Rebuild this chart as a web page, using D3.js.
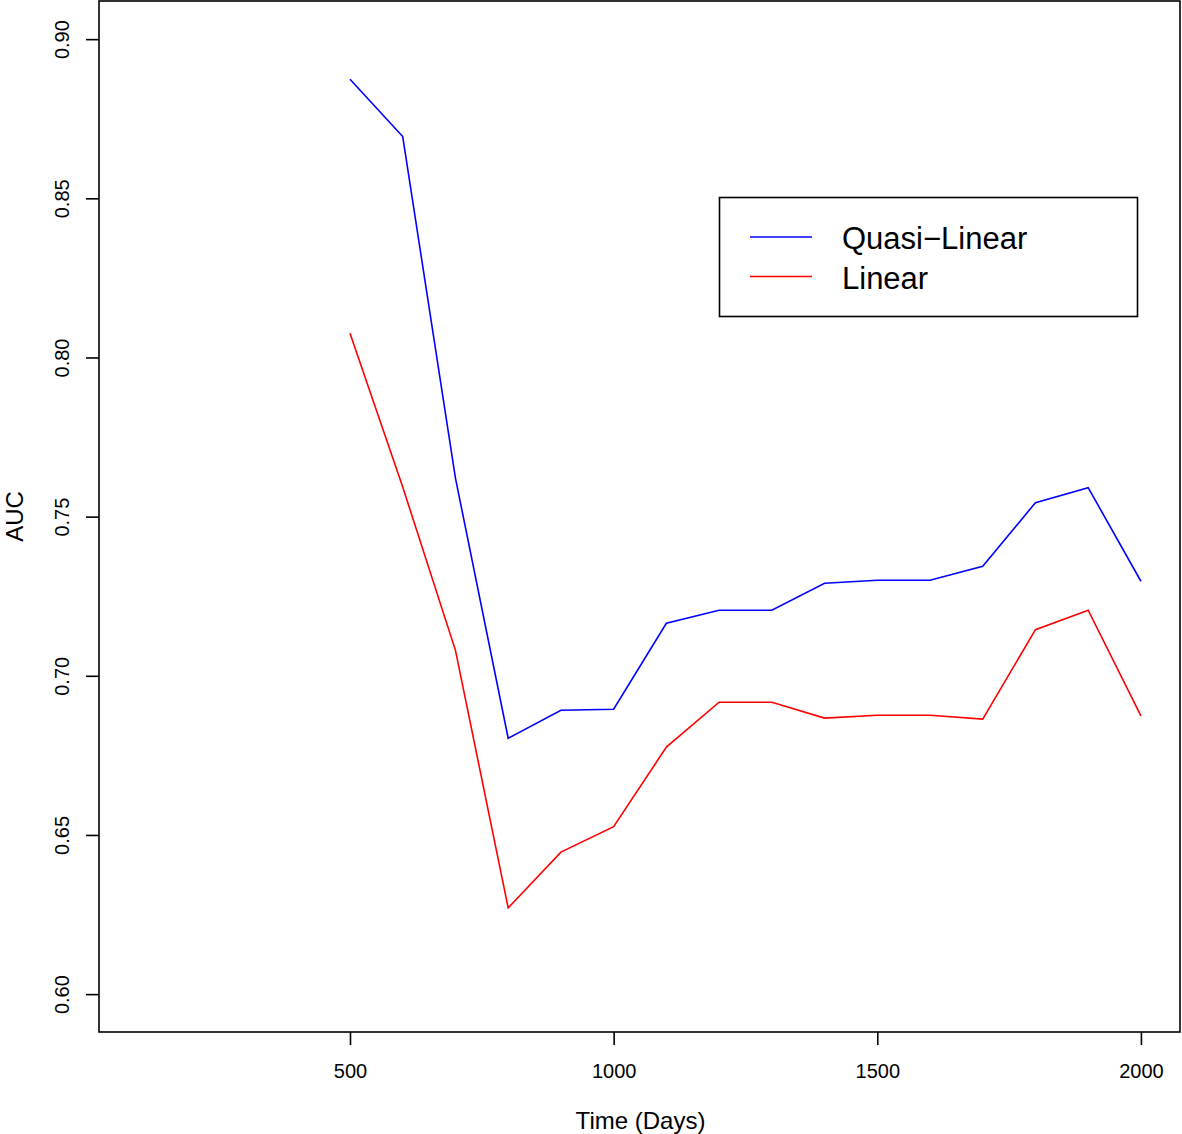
<!DOCTYPE html>
<html lang="en">
<head>
<meta charset="utf-8">
<title>AUC over time</title>
<script src="https://cdn.jsdelivr.net/npm/d3@7/dist/d3.min.js"></script>
<style>
body { margin: 0; background: #fff; }
text { font-family: "Liberation Sans", Arial, sans-serif; }
</style>
</head>
<body>
<script>
// data
var days = [500, 600, 700, 800, 900, 1000, 1100, 1200, 1300, 1400, 1500, 1600, 1700, 1800, 1900, 2000];
var quasiLinear = [0.8874, 0.8694, 0.7621, 0.6804, 0.6892, 0.6895, 0.7165, 0.7206, 0.7206, 0.7291, 0.7300, 0.7300, 0.7344, 0.7544, 0.7591, 0.7297];
var linear = [0.8076, 0.7593, 0.7080, 0.6271, 0.6446, 0.6526, 0.6776, 0.6917, 0.6917, 0.6867, 0.6876, 0.6876, 0.6864, 0.7145, 0.7206, 0.6874];
var xTicks = [500, 1000, 1500, 2000];
var yTicks = [0.60, 0.65, 0.70, 0.75, 0.80, 0.85, 0.90];
var seriesNames = ["Quasi\u2212Linear", "Linear"];
var seriesColors = ["#0000ff", "#ff0000"];

var w = 1182, h = 1134;
var plotLeft = 99, plotRight = 1180, plotTop = 1, plotBottom = 1032;

var svg = d3.select("body").append("svg")
    .attr("width", w)
    .attr("height", h);

// R style: xlim 100..2000 padded by 4%
var x = d3.scaleLinear().domain([24, 2076]).range([plotLeft, plotRight + 1]);
var y = d3.scaleLinear().domain([0.5881, 0.9123]).range([plotBottom, 0]);

var line = d3.line()
    .x(function(d) { return x(d[0]); })
    .y(function(d) { return y(d[1]); });

[quasiLinear, linear].forEach(function(vals, i) {
    svg.append("path")
       .datum(days.map(function(d, j) { return [d, vals[j]]; }))
       .attr("d", line)
       .attr("fill", "none")
       .attr("stroke", seriesColors[i])
       .attr("stroke-width", 1.6);
});

// frame
svg.append("rect")
   .attr("x", plotLeft)
   .attr("y", plotTop)
   .attr("width", plotRight - plotLeft)
   .attr("height", plotBottom - plotTop)
   .attr("fill", "none")
   .attr("stroke", "#000")
   .attr("stroke-width", 1.6);

// x axis
var xAxis = d3.axisBottom(x)
    .tickValues(xTicks)
    .tickSize(13)
    .tickSizeOuter(0)
    .tickPadding(19)
    .tickFormat(d3.format("d"));

var gx = svg.append("g")
   .attr("transform", "translate(0," + plotBottom + ")")
   .call(xAxis);
gx.select(".domain").remove();
gx.selectAll("line").attr("stroke-width", 1.6);
gx.selectAll("text").attr("font-size", "20px").attr("fill", "#000")
  .attr("font-family", "'Liberation Sans', Arial, sans-serif");

// y axis
var yAxis = d3.axisLeft(y)
    .tickValues(yTicks)
    .tickSize(13)
    .tickSizeOuter(0)
    .tickFormat(d3.format(".2f"));

var gy = svg.append("g")
   .attr("transform", "translate(" + plotLeft + ",0)")
   .call(yAxis);
gy.select(".domain").remove();
gy.selectAll("line").attr("stroke-width", 1.6);
gy.selectAll("text")
  .attr("font-size", "20px")
  .attr("fill", "#000")
  .attr("font-family", "'Liberation Sans', Arial, sans-serif")
  .attr("x", null).attr("dy", null)
  .attr("text-anchor", "middle")
  .attr("transform", "translate(-30,0) rotate(-90)");

// axis titles
svg.append("text")
   .attr("x", (plotLeft + plotRight) / 2 + 1)
   .attr("y", 1129)
   .attr("text-anchor", "middle")
   .attr("font-size", "24px")
   .text("Time (Days)");

svg.append("text")
   .attr("transform", "translate(23," + ((plotTop + plotBottom) / 2) + ") rotate(-90)")
   .attr("text-anchor", "middle")
   .attr("font-size", "24px")
   .text("AUC");

// legend
var lg = svg.append("g");
lg.append("rect")
  .attr("x", 719.5).attr("y", 197.5)
  .attr("width", 418).attr("height", 119)
  .attr("fill", "#fff")
  .attr("stroke", "#000")
  .attr("stroke-width", 1.6);

seriesNames.forEach(function(name, i) {
    var ly = 237 + i * 39.5;
    lg.append("line")
      .attr("x1", 750).attr("x2", 812)
      .attr("y1", ly).attr("y2", ly)
      .attr("stroke", seriesColors[i])
      .attr("stroke-width", 1.6);
    lg.append("text")
      .attr("x", 842)
      .attr("y", ly + 12)
      .attr("font-size", "31px")
      .text(name);
});
</script>
</body>
</html>
